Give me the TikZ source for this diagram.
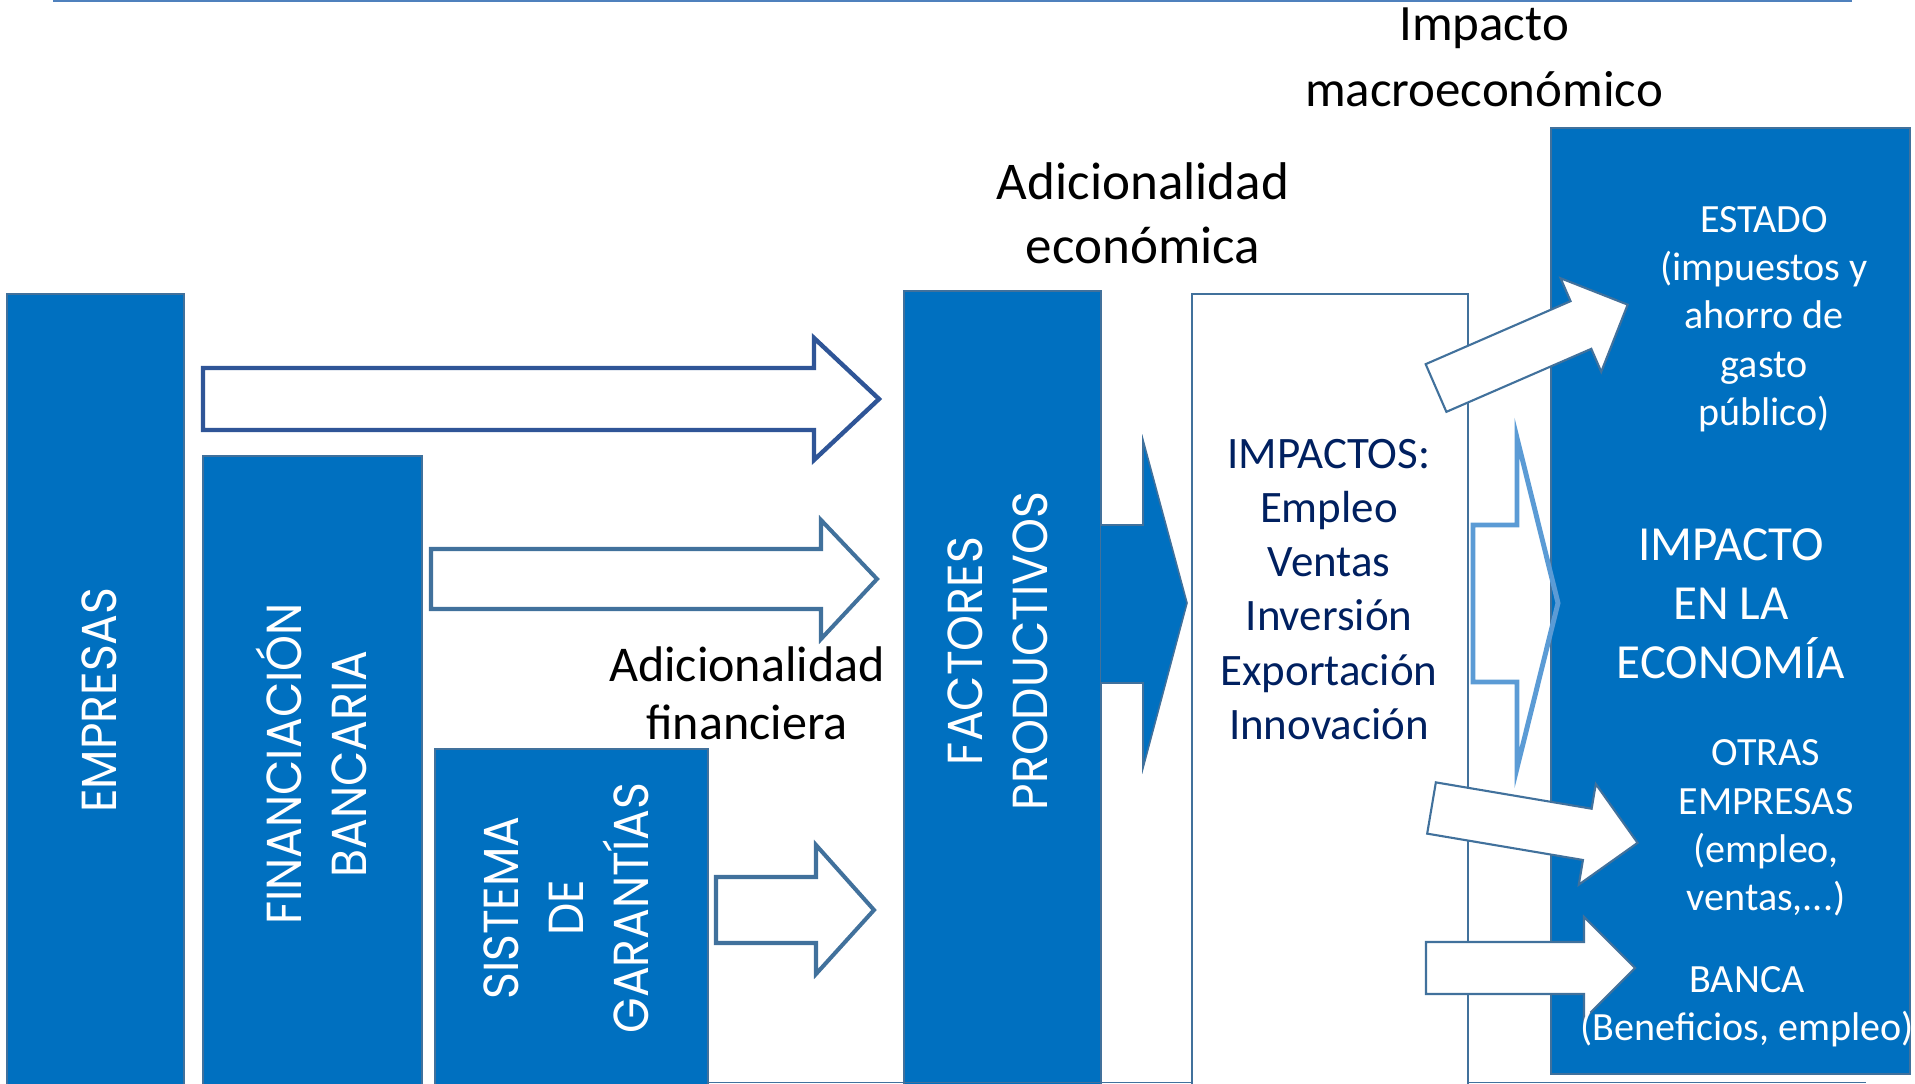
\documentclass[tikz,border=0pt]{standalone}
\usepackage{fontspec}
\setmainfont{Carlito}
\newfontfamily\gothic[FakeStretch=0.93]{Poppins}
\usepackage{tikz}
\definecolor{boxblue}{HTML}{0070C0}
\definecolor{edge}{HTML}{41719C}
\definecolor{darkedge}{HTML}{2F5597}
\definecolor{lightedge}{HTML}{5B9BD5}
\definecolor{navy}{HTML}{002060}
\definecolor{rule}{HTML}{4F81BD}
\tikzset{
  blk/.style={fill=boxblue, draw=edge, line width=0.9pt},
  outbox/.style={draw=edge, line width=0.9pt},
  hollow/.style={draw=edge, fill=white, line width=2.3pt, line join=miter},
  flow/.style={draw=edge, fill=white, line width=1.2pt},
  vlab/.style={rotate=90, text=white, align=center, inner sep=0pt, font=\gothic\fontsize{28pt}{37pt}\selectfont},
  labm/.style={text=black, align=center, inner sep=0pt},
  wlab/.style={text=white, align=center, inner sep=0pt, font=\fontsize{22.8pt}{27.5pt}\selectfont}
}

\begin{document}
\begin{tikzpicture}[x=0.02cm, y=-0.02cm]
  \useasboundingbox (0,0) rectangle (1915,1084);
  \draw[rule, line width=1.4pt] (53,1.1) -- (1852,1.1);

  % columns
  \draw[blk] (7,294) rectangle (184,1095);
  \draw[blk] (203,456) rectangle (422,1095);
  \draw[blk] (435,749) rectangle (708,1095);
  \draw[blk] (904,291) rectangle (1101,1095);
  \draw[outbox] (1192,1095) -- (1192,294) -- (1468,294) -- (1468,1095);
  \draw[outbox] (708,1082.5) -- (1192,1082.5) (1468,1082.5) -- (1866,1082.5);
  \draw[blk] (1551,128) rectangle (1910,1074);

  % block arrows
  \draw[hollow, draw=darkedge, line width=2.5pt] (203,368) -- (814,368) -- (814,338) -- (879,399) -- (814,460) -- (814,430) -- (203,430) -- cycle;
  \draw[hollow] (431,549) -- (821,549) -- (821,520) -- (877,579) -- (821,639) -- (821,609) -- (431,609) -- cycle;
  \draw[hollow] (716,877) -- (816,877) -- (816,845) -- (874,910) -- (816,974) -- (816,943) -- (716,943) -- cycle;
  \draw[blk] (1101,525) -- (1143,525) -- (1143,440) -- (1187,603) -- (1143,768) -- (1143,683) -- (1101,683);
  \draw[lightedge, line width=2.8pt, line join=miter] (1473,525) -- (1517,525) -- (1517,438) -- (1558,603) -- (1517,768) -- (1517,682) -- (1473,682) -- cycle;
  \foreach \ax/\ay/\ang in {1436/388/23.5, 1431.5/808/-9.6, 1426/968/0}
    \draw[flow, shift={(\ax,\ay)}, rotate=\ang] (0,-26) -- (158,-26) -- (158,-51) -- (209,0) -- (158,51) -- (158,26) -- (0,26) -- cycle;

  % labels
  \node[labm, font=\fontsize{29pt}{37.6pt}\selectfont] (macro) at (1484,57) {Impacto\\macroeconómico};
  \node[labm, font=\fontsize{30.2pt}{36.4pt}\selectfont] (econ) at (1143,213) {Adicionalidad\\económica};
  \node[labm, font=\fontsize{28.5pt}{33pt}\selectfont] (finan) at (747,693) {Adicionalidad\\financiera};
  \node[vlab] (empresas) at (99.5,700) {EMPRESAS};
  \node[vlab] (bancaria) at (311,764) {FINANCIACIÓN\\BANCARIA};
  \node[vlab] (garantias) at (566.5,908) {SISTEMA\\DE\\GARANTÍAS};
  \node[vlab] (factores) at (997.5,651) {FACTORES\\PRODUCTIVOS};
  \node[labm, text=navy, font=\fontsize{25.6pt}{30.8pt}\selectfont] (impactos) at (1329,589.5) {IMPACTOS:\\Empleo\\Ventas\\Inversión\\Exportación\\Innovación};
  \node[wlab] (estado) at (1764,319) {ESTADO\\(impuestos y\\ahorro de\\gasto\\público)};
  \node[wlab, font=\fontsize{27.9pt}{33.6pt}\selectfont] (economia) at (1731,604) {IMPACTO\\EN LA\\ECONOMÍA};
  \node[wlab] (otras) at (1766,828) {OTRAS\\EMPRESAS\\(empleo,\\ventas,...)};
  \node[wlab] (banca) at (1747,1007) {BANCA\\(Beneficios, empleo)};
\end{tikzpicture}
\end{document}
